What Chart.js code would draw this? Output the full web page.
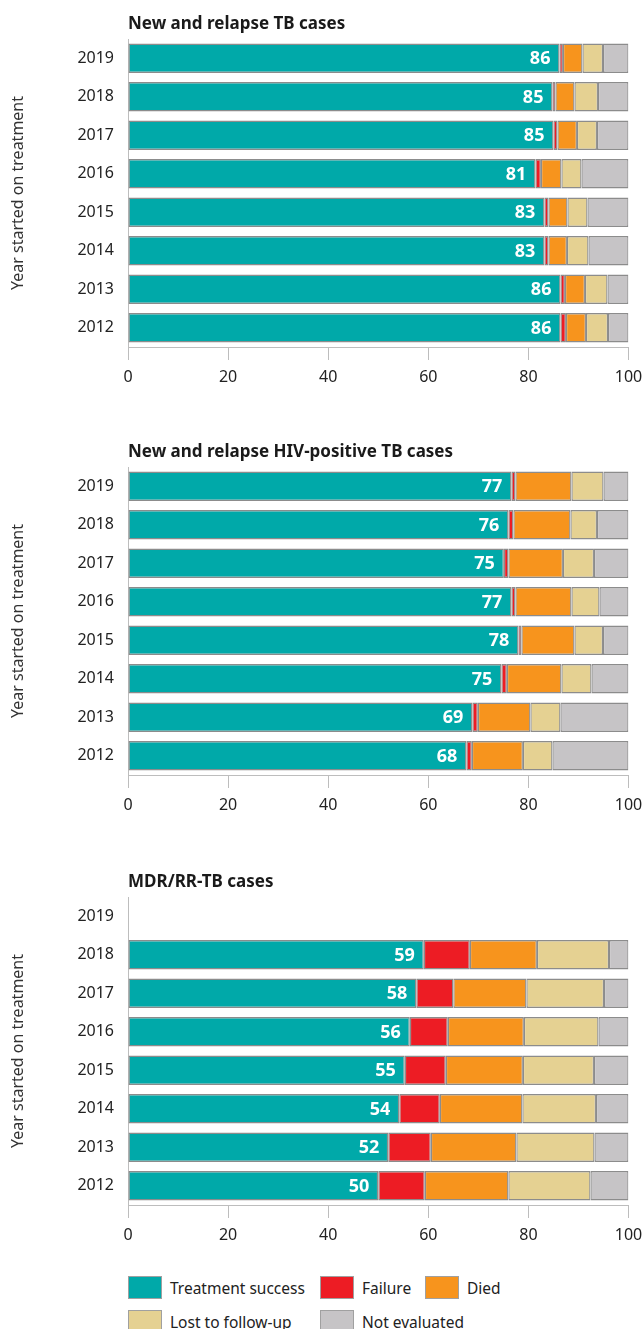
<!DOCTYPE html>
<html>
<head>
<meta charset="utf-8">
<script src="https://cdn.jsdelivr.net/npm/chart.js@4/dist/chart.umd.min.js"></script>
<style>
  body { margin: 0; background: #fff; font-family: "Noto Sans", sans-serif; }
  .panel { position: absolute; left: 0; width: 643px; height: 400px; }
  #legend {
    position: absolute; left: 128px; top: 1276px; width: 515px;
    display: grid; grid-template-columns: 192px 105px 190px; row-gap: 11px;
    font-size: 15.5px; color: #222; white-space: nowrap;
  }
  .item { display: flex; align-items: center; height: 23px; }
  .box { flex: none; width: 32px; height: 21px; border: 1px solid #a0a0a0; margin-right: 8px; }
</style>
</head>
<body>
<div class="panel" style="top:0"><canvas id="c1" width="643" height="400"></canvas></div>
<div class="panel" style="top:428px"><canvas id="c2" width="643" height="400"></canvas></div>
<div class="panel" style="top:858px"><canvas id="c3" width="643" height="400"></canvas></div>
<div id="legend"></div>
<script>
const years = ['2019', '2018', '2017', '2016', '2015', '2014', '2013', '2012']
const outcomes = ['Treatment success', 'Failure', 'Died', 'Lost to follow-up', 'Not evaluated']
const colors = ['#00a9a9', '#ed1c24', '#f7941d', '#e5d192', '#c6c4c6']
const xTicks = [0, 20, 40, 60, 80, 100]

// New and relapse TB cases
const tbSuccess = [86.2, 84.8, 85.0, 81.4, 83.2, 83.2, 86.4, 86.4]
const tbFailure = [0.7, 0.6, 0.8, 1.1, 0.8, 0.8, 0.9, 1.1]
const tbDied = [3.9, 3.8, 3.9, 4.1, 3.8, 3.7, 4.0, 4.0]
const tbLost = [4.1, 4.7, 4.0, 4.0, 4.0, 4.3, 4.5, 4.4]
const tbNotEval = [5.1, 6.1, 6.3, 9.4, 8.2, 8.0, 4.2, 4.1]

// New and relapse HIV-positive TB cases
const hivSuccess = [76.6, 76.0, 75.1, 76.6, 78.0, 74.6, 68.8, 67.6]
const hivFailure = [0.8, 1.0, 0.9, 0.8, 0.6, 1.1, 1.1, 1.1]
const hivDied = [11.2, 11.4, 10.9, 11.2, 10.6, 10.9, 10.5, 10.2]
const hivLost = [6.4, 5.3, 6.2, 5.6, 5.7, 6.0, 6.0, 5.9]
const hivNotEval = [5.0, 6.3, 6.9, 5.8, 5.1, 7.4, 13.6, 15.2]

// MDR/RR-TB cases (no 2019 cohort)
const mdrSuccess = [null, 59.1, 57.6, 56.3, 55.3, 54.2, 52.0, 50.0]
const mdrFailure = [null, 9.2, 7.4, 7.6, 8.2, 8.1, 8.5, 9.3]
const mdrDied = [null, 13.4, 14.6, 15.2, 15.4, 16.5, 17.1, 16.7]
const mdrLost = [null, 14.4, 15.5, 14.9, 14.2, 14.7, 15.6, 16.4]
const mdrNotEval = [null, 3.9, 4.9, 6.0, 6.9, 6.5, 6.8, 7.6]

const FONT = '"Noto Sans", sans-serif'

// title over the plot area, left aligned with the axis
const panelTitle = {
    id: 'panelTitle',
    afterDraw(chart, args, opts) {
        const {ctx, chartArea} = chart
        ctx.save()
        ctx.font = 'bold 17px ' + FONT
        ctx.fillStyle = '#1a1a1a'
        ctx.textAlign = 'left'
        ctx.textBaseline = 'alphabetic'
        ctx.fillText(opts.text, chartArea.left, chartArea.top - 10.5)
        ctx.restore()
    }
}

// white value labels at the end of the success segment
const successLabels = {
    id: 'successLabels',
    afterDatasetsDraw(chart) {
        const {ctx} = chart
        const meta = chart.getDatasetMeta(0)
        const data = chart.data.datasets[0].data
        ctx.save()
        ctx.font = 'bold 18px ' + FONT
        ctx.fillStyle = '#fff'
        ctx.textAlign = 'right'
        ctx.textBaseline = 'middle'
        meta.data.forEach((bar, i) => {
            if (data[i] == null) return
            ctx.fillText(Math.round(data[i]), bar.x - 9, bar.y + 1)
        })
        ctx.restore()
    }
}

function makeChart(id, title, series) {
    new Chart(document.getElementById(id), {
        type: 'bar',
        data: {
            labels: years,
            datasets: series.map((vals, i) => ({
                label: outcomes[i],
                data: vals,
                backgroundColor: colors[i],
                borderColor: '#8c8c8c',
                borderWidth: 1.3,
                borderSkipped: false,
                barPercentage: 0.76,
                categoryPercentage: 1
            }))
        },
        options: {
            indexAxis: 'y',
            responsive: false,
            animation: false,
            layout: {padding: {top: 39, right: 14.5, left: 0, bottom: 0}},
            plugins: {
                legend: {display: false},
                tooltip: {enabled: false},
                panelTitle: {text: title}
            },
            scales: {
                x: {
                    stacked: true,
                    min: 0,
                    max: 100,
                    afterBuildTicks: s => { s.ticks = xTicks.map(v => ({value: v})) },
                    ticks: {color: '#222', font: {size: 16, family: FONT}, padding: 8, maxRotation: 0},
                    grid: {drawOnChartArea: false, drawTicks: true, tickLength: 13, color: '#bdbdbd'},
                    border: {color: '#bdbdbd'},
                    afterFit: s => { s.height = 53; s.paddingLeft = 0; s.paddingRight = 0 }
                },
                y: {
                    stacked: true,
                    ticks: {color: '#222', font: {size: 16, family: FONT}, padding: 14},
                    grid: {drawOnChartArea: false, drawTicks: false},
                    border: {color: '#bdbdbd'},
                    title: {
                        display: true,
                        text: 'Year started on treatment',
                        color: '#333',
                        font: {size: 16, family: FONT},
                        padding: {top: 9, bottom: 0}
                    },
                    afterFit: s => { s.width = 128; s.paddingTop = 0; s.paddingBottom = 0 }
                }
            }
        },
        plugins: [panelTitle, successLabels]
    })
}

makeChart('c1', 'New and relapse TB cases', [tbSuccess, tbFailure, tbDied, tbLost, tbNotEval])
makeChart('c2', 'New and relapse HIV-positive TB cases', [hivSuccess, hivFailure, hivDied, hivLost, hivNotEval])
makeChart('c3', 'MDR/RR-TB cases', [mdrSuccess, mdrFailure, mdrDied, mdrLost, mdrNotEval])

const legend = document.getElementById('legend')
outcomes.forEach((name, i) => {
    const item = document.createElement('div')
    item.className = 'item'
    item.innerHTML = '<span class="box" style="background:' + colors[i] + '"></span><span>' + name + '</span>'
    legend.appendChild(item)
})
</script>
</body>
</html>
